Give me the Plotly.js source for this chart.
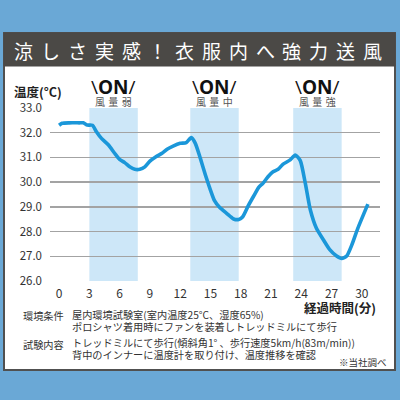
<!DOCTYPE html>
<html>
<head>
<meta charset="utf-8">
<script src="https://cdn.plot.ly/plotly-3.0.1.min.js"></script>
<style>html,body{margin:0;padding:0;background:#6aa8d6;}#chart{width:400px;height:400px;}</style>
</head>
<body>
<div id="chart"></div>
<script>
// ---- data ----
const minutes = [0, 0.3, 1, 2, 2.4, 2.8, 3.3, 3.7, 4.2, 4.9, 5.5, 6.0, 6.5, 7.0, 7.5, 8.0, 8.5, 9.0, 9.6, 10.2, 10.7, 11.3, 12.0, 12.6, 13.1, 13.5, 14.0, 14.5, 15.0, 15.4, 15.9, 16.6, 17.3, 17.8, 18.2, 18.75, 19.3, 19.8, 20.2, 20.7, 21.2, 21.7, 22.2, 22.9, 23.4, 23.9, 24.4, 24.9, 25.5, 26.2, 26.8, 27.5, 28.0, 28.5, 29.0, 29.6, 30.6];
const temperature = [32.3, 32.38, 32.4, 32.4, 32.4, 32.31, 32.3, 32.04, 31.77, 31.5, 31.17, 30.92, 30.79, 30.62, 30.52, 30.52, 30.62, 30.85, 31.03, 31.17, 31.33, 31.46, 31.57, 31.6, 31.8, 31.57, 30.96, 30.29, 29.68, 29.25, 28.98, 28.74, 28.51, 28.49, 28.6, 29.05, 29.45, 29.8, 29.95, 30.22, 30.42, 30.52, 30.73, 30.9, 31.1, 30.87, 29.95, 28.87, 28.13, 27.66, 27.28, 27.01, 26.91, 27.01, 27.45, 28.13, 29.11];
const fanStart = [3, 13, 23.2];
const fanEnd = [7.8, 17.8, 28];
const fanLabels = ["風量弱", "風量中", "風量強"];
const onLabel = "\\<b>ON</b>/";
const xTicks = [0, 3, 6, 9, 12, 15, 18, 21, 24, 27, 30];
const yTicks = [26, 27, 28, 29, 30, 31, 32, 33];
const titleText = "涼しさ実感！衣服内へ強力送風";
const yTitle = "温度(°C)";
const xTitle = "経過時間(分)";
const noteLabels = ["環境条件", "試験内容"];
const noteLines1 = ["屋内環境試験室(室内温度25°C、湿度65%)", "ポロシャツ着用時にファンを装着しトレッドミルにて歩行"];
const noteLines2 = ["トレッドミルにて歩行(傾斜角1° 、歩行速度5km/h(83m/min))", "背中のインナーに温度計を取り付け、温度推移を確認"];
const sourceNote = "※当社調べ";

// ---- layout helpers (pixel -> paper) ----
const L = 50, R = 20, T = 108, B = 119, PW = 400 - L - R, PH = 400 - T - B;
const fx = px => (px - L) / PW;
const fy = py => (400 - B - py) / PH;
const FONT = '"Noto Sans CJK JP", "Noto Sans", sans-serif';

const shapes = [
  {type: 'rect', xref: 'paper', yref: 'paper', x0: fx(4), x1: fx(395), y0: fy(370), y1: fy(33),
   fillcolor: '#ffffff', line: {color: '#505050', width: 2}, layer: 'below'},
  {type: 'rect', xref: 'paper', yref: 'paper', x0: fx(4), x1: fx(395), y0: fy(66), y1: fy(33),
   fillcolor: '#4b4946', line: {color: '#4b4946', width: 1}, layer: 'below'}
];
fanStart.forEach((s, i) => {
  shapes.push({type: 'rect', xref: 'x', yref: 'y', x0: s, x1: fanEnd[i], y0: 26, y1: 33,
    fillcolor: '#cde7f8', line: {width: 0}, layer: 'below'});
});

const annotations = [];
const tChars = Array.from(titleText);
const pitch = 26.8, tc = 198;
tChars.forEach((c, i) => {
  annotations.push({xref: 'paper', yref: 'paper', x: fx(tc + (i - (tChars.length - 1) / 2) * pitch), y: fy(50.5),
    text: c, showarrow: false, xanchor: 'center', yanchor: 'middle',
    font: {family: FONT, size: 19, color: '#ffffff'}});
});
fanStart.forEach((s, i) => {
  const mid = (s + fanEnd[i]) / 2;
  annotations.push({xref: 'x', yref: 'paper', x: mid, y: fy(87), text: onLabel, showarrow: false,
    xanchor: 'center', yanchor: 'middle', borderpad: 0,
    font: {family: '"Open Sans", sans-serif', size: 19, color: '#111111'}});
  annotations.push({xref: 'x', yref: 'paper', x: mid, y: fy(101.5), text: Array.from(fanLabels[i]).join('\u2004'),
    showarrow: false, xanchor: 'center', yanchor: 'middle', borderpad: 0, font: {family: FONT, size: 10, color: '#555555'}});
});
annotations.push({xref: 'paper', yref: 'paper', x: fx(38), y: fy(91.5), text: '<b>' + yTitle + '</b>', showarrow: false,
  xanchor: 'center', yanchor: 'middle', font: {family: FONT, size: 12.5, color: '#222222'}});
annotations.push({xref: 'paper', yref: 'paper', x: fx(378), y: fy(307.5), text: '<b>' + xTitle + '</b>', showarrow: false,
  xanchor: 'right', yanchor: 'middle', font: {family: FONT, size: 12.5, color: '#222222'}});
const noteFont = {family: FONT, size: 10.2, color: '#333333'};
annotations.push({xref: 'paper', yref: 'paper', x: fx(21), y: fy(315.5), text: noteLabels[0], showarrow: false, xanchor: 'left', yanchor: 'middle', font: noteFont});
annotations.push({xref: 'paper', yref: 'paper', x: fx(21), y: fy(344), text: noteLabels[1], showarrow: false, xanchor: 'left', yanchor: 'middle', font: noteFont});
noteLines1.forEach((t, i) => annotations.push({xref: 'paper', yref: 'paper', x: fx(70), y: fy(314 + i * 12.5), text: t, showarrow: false, xanchor: 'left', yanchor: 'middle', font: noteFont}));
noteLines2.forEach((t, i) => annotations.push({xref: 'paper', yref: 'paper', x: fx(70), y: fy(342 + i * 12.5), text: t, showarrow: false, xanchor: 'left', yanchor: 'middle', font: noteFont}));
annotations.push({xref: 'paper', yref: 'paper', x: fx(389), y: fy(361.5), text: sourceNote, showarrow: false, xanchor: 'right', yanchor: 'middle', font: {family: FONT, size: 9.5, color: '#333333'}});

const trace = {
  x: minutes, y: temperature, type: 'scatter', mode: 'lines',
  line: {color: '#1b97d9', width: 3.6, shape: 'spline', smoothing: 0.6},
  hoverinfo: 'skip'
};

const layout = {
  width: 400, height: 400,
  margin: {l: L, r: R, t: T, b: B, pad: 0},
  paper_bgcolor: '#6aa8d6',
  plot_bgcolor: 'rgba(0,0,0,0)',
  showlegend: false,
  xaxis: {range: [-0.9, 31.8], tickvals: xTicks, ticktext: xTicks.map(String), showgrid: false, zeroline: false,
    showline: false, ticks: '', ticklabelstandoff: 4, fixedrange: true,
    tickfont: {family: FONT, size: 12, color: '#333333'}},
  yaxis: {range: [26, 33], tickvals: yTicks, ticktext: yTicks.map(v => v.toFixed(1)), showgrid: true,
    gridcolor: '#a3a3a3', gridwidth: 1.3, zeroline: false, showline: false, ticks: '', ticklabelstandoff: 7,
    fixedrange: true, tickfont: {family: FONT, size: 11.5, color: '#333333'}},
  shapes: shapes,
  annotations: annotations
};

Plotly.newPlot('chart', [trace], layout, {staticPlot: true, displayModeBar: false});
</script>
</body>
</html>
